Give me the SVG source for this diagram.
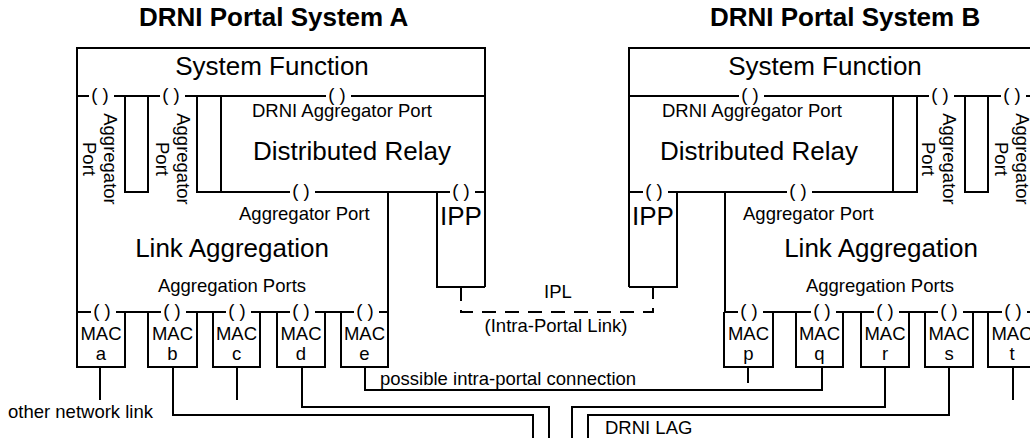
<svg xmlns="http://www.w3.org/2000/svg" width="1030" height="438" viewBox="0 0 1030 438">
<style>
.ln{fill:none;stroke:#000;stroke-width:2}
.ds{fill:none;stroke:#000;stroke-width:2;stroke-dasharray:14 9}
.gap{fill:#fff}
text{font-family:"Liberation Sans",Arial,sans-serif;fill:#000}
.t{font-size:26px;font-weight:bold}
.b{font-size:26px}
.s{font-size:18.5px}
.m{text-anchor:middle}
</style>
<rect width="1030" height="438" fill="#fff"/>
<g id="connectors">
<path class="ln" d="M100,367 V400"/>
<path class="ln" d="M237,367 V400"/>
<path class="ln" d="M173,367 V415 H533 V440"/>
<path class="ln" d="M302,367 V407 H549 V440"/>
<path class="ln" d="M365,367 V390 H822 V367"/>
<path class="ln" d="M748,367 V383"/>
<path class="ln" d="M885,367 V407 H572 V440"/>
<path class="ln" d="M949,367 V415 H588 V440"/>
<path class="ln" d="M1013,367 V400"/>
<path class="ds" d="M461,287 V312 H653 V287"/>
<text class="s m" x="558" y="298">IPL</text>
<text class="s m" x="556" y="332">(Intra-Portal Link)</text>
<text class="s" x="8" y="418">other network link</text>
<text class="s" x="380" y="385">possible intra-portal connection</text>
<text class="s" x="605" y="434">DRNI LAG</text>
</g>
<g id="titleA"><text class="t" x="139" y="26">DRNI Portal System A</text></g>
<g id="titleB"><text class="t" x="710" y="26">DRNI Portal System B</text></g>
<g id="systemA">
<path class="ln" d="M77,367 V48 H485 V287"/>
<path class="ln" d="M77,96 H485"/>
<text class="b m" x="272" y="75">System Function</text>
</g>
<g id="aggPortA1">
<path class="ln" d="M125,96 V192 H148 V96"/>
<rect class="gap" x="89" y="93" width="25" height="6"/>
<text class="s m" x="100" y="100.5">( )</text>
<text class="s m" x="104" y="159" transform="rotate(90 104 159)">Aggregator</text>
<text class="s m" x="83" y="159" transform="rotate(90 83 159)">Port</text>
</g>
<g id="aggPortA2">
<path class="ln" d="M197,96 V192 H221 V96"/>
<rect class="gap" x="160" y="93" width="25" height="6"/>
<text class="s m" x="171" y="100.5">( )</text>
<text class="s m" x="177" y="159" transform="rotate(90 177 159)">Aggregator</text>
<text class="s m" x="156" y="159" transform="rotate(90 156 159)">Port</text>
</g>
<g id="relayA">
<path class="ln" d="M221,192 H485"/>
<rect class="gap" x="326" y="93" width="25" height="6"/>
<text class="s m" x="337" y="100.5">( )</text>
<text class="s" x="252" y="117">DRNI Aggregator Port</text>
<text class="b" x="253" y="160">Distributed Relay</text>
</g>
<g id="ippA">
<path class="ln" d="M437,192 V287 H485"/>
<rect class="gap" x="450" y="189" width="25" height="6"/>
<text class="s m" x="461" y="196.5">( )</text>
<text class="b m" x="461" y="225">IPP</text>
</g>
<g id="linkAggA">
<path class="ln" d="M388,192 V312 H77"/>
<rect class="gap" x="290" y="189" width="25" height="6"/>
<text class="s m" x="301" y="196.5">( )</text>
<text class="s" x="239" y="220">Aggregator Port</text>
<text class="b m" x="232" y="257">Link Aggregation</text>
<text class="s m" x="232" y="292">Aggregation Ports</text>
</g>
<g id="macA">
<path class="ln" d="M77,312 V367 H125 V312"/>
<rect class="gap" x="91" y="309" width="25" height="6"/>
<text class="s m" x="102" y="316.5">( )</text>
<text class="s m" x="101" y="340">MAC</text><text class="s m" x="101" y="360">a</text>
</g>
<g id="macB">
<path class="ln" d="M148,312 V367 H197 V312"/>
<rect class="gap" x="161" y="309" width="25" height="6"/>
<text class="s m" x="172" y="316.5">( )</text>
<text class="s m" x="172.5" y="340">MAC</text><text class="s m" x="172.5" y="360">b</text>
</g>
<g id="macC">
<path class="ln" d="M213,312 V367 H260 V312"/>
<rect class="gap" x="226" y="309" width="25" height="6"/>
<text class="s m" x="237" y="316.5">( )</text>
<text class="s m" x="236.5" y="340">MAC</text><text class="s m" x="236.5" y="360">c</text>
</g>
<g id="macD">
<path class="ln" d="M277,312 V367 H325 V312"/>
<rect class="gap" x="290" y="309" width="25" height="6"/>
<text class="s m" x="301" y="316.5">( )</text>
<text class="s m" x="301" y="340">MAC</text><text class="s m" x="301" y="360">d</text>
</g>
<g id="macE">
<path class="ln" d="M341,312 V367 H388 V312"/>
<rect class="gap" x="354" y="309" width="25" height="6"/>
<text class="s m" x="365" y="316.5">( )</text>
<text class="s m" x="364.5" y="340">MAC</text><text class="s m" x="364.5" y="360">e</text>
</g>
<g id="systemB">
<path class="ln" d="M629,287 V48 H1040"/>
<path class="ln" d="M629,96 H1040"/>
<text class="b m" x="825" y="75">System Function</text>
</g>
<g id="aggPortB1">
<path class="ln" d="M893,96 V192 H917 V96"/>
<rect class="gap" x="929" y="93" width="25" height="6"/>
<text class="s m" x="940" y="100.5">( )</text>
<text class="s m" x="943" y="159" transform="rotate(90 943 159)">Aggregator</text>
<text class="s m" x="922" y="159" transform="rotate(90 922 159)">Port</text>
</g>
<g id="aggPortB2">
<path class="ln" d="M965,96 V192 H988 V96"/>
<rect class="gap" x="1001" y="93" width="25" height="6"/>
<text class="s m" x="1012" y="100.5">( )</text>
<text class="s m" x="1016" y="159" transform="rotate(90 1016 159)">Aggregator</text>
<text class="s m" x="995" y="159" transform="rotate(90 995 159)">Port</text>
</g>
<g id="relayB">
<path class="ln" d="M629,192 H893"/>
<rect class="gap" x="739" y="93" width="25" height="6"/>
<text class="s m" x="750" y="100.5">( )</text>
<text class="s" x="662" y="117">DRNI Aggregator Port</text>
<text class="b" x="660" y="160">Distributed Relay</text>
</g>
<g id="ippB">
<path class="ln" d="M677,192 V287 H629"/>
<rect class="gap" x="643" y="189" width="25" height="6"/>
<text class="s m" x="654" y="196.5">( )</text>
<text class="b m" x="653" y="225">IPP</text>
</g>
<g id="linkAggB">
<path class="ln" d="M725,192 V312 H1040"/>
<rect class="gap" x="787" y="189" width="25" height="6"/>
<text class="s m" x="798" y="196.5">( )</text>
<text class="s" x="743" y="220">Aggregator Port</text>
<text class="b m" x="881" y="257">Link Aggregation</text>
<text class="s m" x="880" y="292">Aggregation Ports</text>
</g>
<g id="macP">
<path class="ln" d="M724,312 V367 H773 V312"/>
<rect class="gap" x="738" y="309" width="25" height="6"/>
<text class="s m" x="749" y="316.5">( )</text>
<text class="s m" x="748.5" y="340">MAC</text><text class="s m" x="748.5" y="360">p</text>
</g>
<g id="macQ">
<path class="ln" d="M796,312 V367 H843 V312"/>
<rect class="gap" x="811" y="309" width="25" height="6"/>
<text class="s m" x="822" y="316.5">( )</text>
<text class="s m" x="819.5" y="340">MAC</text><text class="s m" x="819.5" y="360">q</text>
</g>
<g id="macR">
<path class="ln" d="M861,312 V367 H909 V312"/>
<rect class="gap" x="874" y="309" width="25" height="6"/>
<text class="s m" x="885" y="316.5">( )</text>
<text class="s m" x="885" y="340">MAC</text><text class="s m" x="885" y="360">r</text>
</g>
<g id="macS">
<path class="ln" d="M925,312 V367 H973 V312"/>
<rect class="gap" x="938" y="309" width="25" height="6"/>
<text class="s m" x="949" y="316.5">( )</text>
<text class="s m" x="949" y="340">MAC</text><text class="s m" x="949" y="360">s</text>
</g>
<g id="macT">
<path class="ln" d="M988,312 V367 H1036 V312"/>
<rect class="gap" x="1002" y="309" width="25" height="6"/>
<text class="s m" x="1013" y="316.5">( )</text>
<text class="s m" x="1012" y="340">MAC</text><text class="s m" x="1012" y="360">t</text>
</g>
</svg>
